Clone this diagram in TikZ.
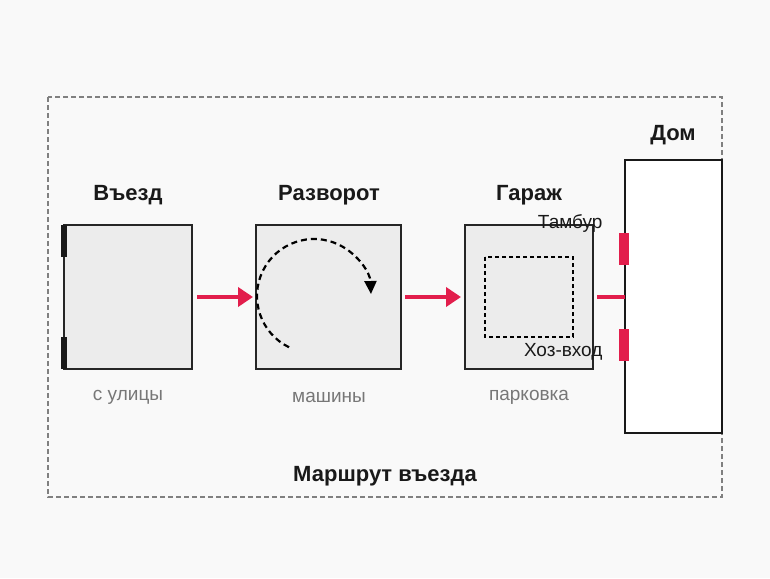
\documentclass[tikz,border=0pt]{standalone}
\usepackage{fontspec}
\setmainfont{Liberation Sans}
\usetikzlibrary{arrows.meta}
\definecolor{bgc}{HTML}{F9F9F9}
\definecolor{boxc}{HTML}{ECECEC}
\definecolor{redc}{HTML}{E21E4C}
\definecolor{capc}{HTML}{777777}
\tikzset{
	zone/.style = {draw = black!85, fill = boxc, line width = 1.2pt},
	title/.style = {font = \bfseries\fontsize{22}{24}\selectfont, text = black!90},
	caption/.style = {font = \fontsize{19}{21}\selectfont, text = capc},
	small/.style = {font = \fontsize{19}{21}\selectfont, text = black!90},
	flow/.style = {draw = redc, line width = 4pt, -{Triangle[length=15pt, width=19pt]}},
	door/.style = {fill = redc, draw = none}
}
\begin{document}
\begin{tikzpicture}[x = 1pt, y = -1pt]
	\fill[bgc] (0,0) rectangle (770,578);
	\useasboundingbox (0,0) rectangle (770,578);
	\draw[gray, dashed, line width = 1.5pt, dash pattern = on 5pt off 3pt] (48,97) rectangle (722,497);

	% zones
	\draw[zone] (64,225) rectangle (192,369);
	\fill[black!90] (61,225) rectangle (67,257);
	\fill[black!90] (61,337) rectangle (67,369);
	\draw[zone] (256,225) rectangle (401,369);
	\draw[dashed, line width = 2.2pt, dash pattern = on 6pt off 4pt, -{Triangle[length=13pt, width=12pt]}]
		(314,296) ++(116:57) arc[start angle = 116, end angle = 358, radius = 57];
	\draw[zone] (465,225) rectangle (593,369);
	\draw[line width = 1.4pt, dash pattern = on 4pt off 3pt] (485,257) rectangle (573,337);
	\draw[black!90, fill = white, line width = 2.6pt] (625,160) rectangle (722,433);
	\fill[door] (619,233) rectangle (629,265);
	\fill[door] (619,329) rectangle (629,361);

	% flow
	\draw[flow] (197,297) -- (253,297);
	\draw[flow] (405,297) -- (461,297);
	\draw[draw = redc, line width = 4pt] (597,297) -- (625,297);

	% labels
	\node[title] (tEntry) at (128,195) {Въезд};
	\node[title] (tTurn) at (329,195) {Разворот};
	\node[title] (tGarage) at (529,195) {Гараж};
	\node[title] (tHouse) at (673,135) {Дом};
	\node[caption] (cEntry) at (128,397) {с улицы};
	\node[caption] (cTurn) at (329,397) {машины};
	\node[caption] (cGarage) at (529,397) {парковка};
	\node[small, anchor = east] (lHall) at (606,224) {Тамбур};
	\node[small, anchor = east] (lUtil) at (606,352) {Хоз-вход};
	\node[title] (tRoute) at (385,476) {Маршрут въезда};
\end{tikzpicture}
\end{document}
